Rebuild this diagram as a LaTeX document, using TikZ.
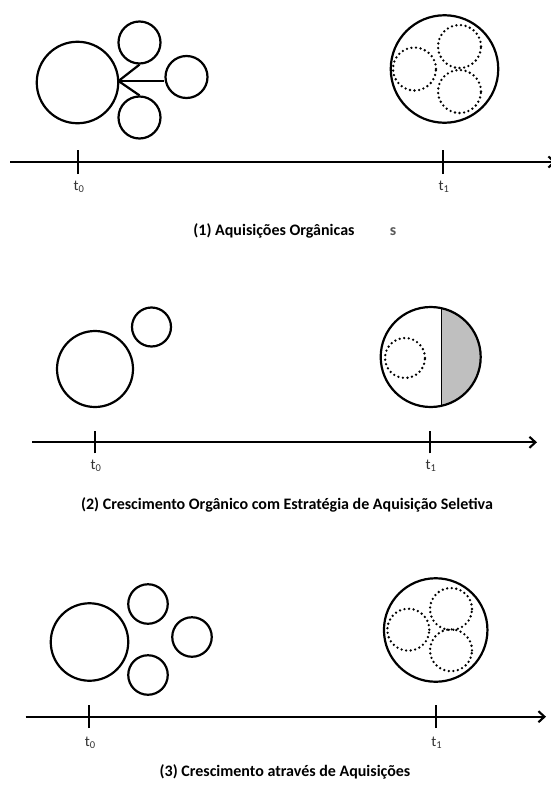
\documentclass[tikz,border=0pt]{standalone}
\usepackage{fontspec}
\setmainfont{Carlito}
\usetikzlibrary{arrows.meta}
\begin{document}
\begin{tikzpicture}[x=1pt,y=-1pt,
  ring/.style={circle,draw,line width=2.2pt,inner sep=0pt,minimum size=#1},
  dotring/.style={circle,draw,line width=2.6pt,dash pattern=on 0pt off 4.6pt,line cap=round,inner sep=0pt,minimum size=#1},
  axis/.style={line width=2.1pt},
  tick/.style={line width=2.1pt},
  tlabel/.style={font=\fontsize{15}{16}\selectfont, text=black!80},
  caption/.style={font=\bfseries\fontsize{16}{18}\selectfont},
  link/.style={line width=2.2pt}]
\useasboundingbox (0,0) rectangle (551,787);

% ---------- Panel 1 ----------
\node[ring=81.5pt] (b1) at (77.5,82.5) {};
\node[ring=42pt] (s1a) at (139.5,42.5) {};
\node[ring=42pt] (s1b) at (186.5,77) {};
\node[ring=42pt] (s1c) at (139.5,117.5) {};
\coordinate (j1) at (118.5,81);
\draw[link] (j1) -- (s1a.south);
\draw[link] (j1) -- (s1b.west |- j1);
\draw[link] (j1) -- (s1c.north);

\node[ring=107.5pt] (B1) at (444.5,69) {};
\node[dotring=43pt] (d1a) at (414.5,69) {};
\node[dotring=43pt] (d1b) at (459.5,46.5) {};
\node[dotring=43pt] (d1c) at (459.5,91.5) {};

\coordinate (a1s) at (10,162);
\coordinate (a1e) at (556,162);
\draw[axis,-{Straight Barb[length=6pt,width=11pt]}] (a1s) -- (a1e);
\coordinate (t10) at (78,162);
\coordinate (t11) at (442.7,162);
\draw[tick] ([yshift=-12pt]t10) -- ([yshift=12pt]t10);
\draw[tick] ([yshift=-12pt]t11) -- ([yshift=12pt]t11);
\node[tlabel] (l10) at (79,187) {t\textsubscript{0}};
\node[tlabel] (l11) at (444,187) {t\textsubscript{1}};
\node[caption] (c1) at (274,231) {(1) Aquisições Orgânicas};
\node[caption,text=black!65] (c1s) at (393,232) {s};

% ---------- Panel 2 ----------
\node[ring=76pt] (b2) at (95,369) {};
\node[ring=39pt] (s2) at (151.5,327) {};

\begin{scope}
  \clip (430.7,357) circle (50pt);
  \fill[gray!50] (441,300) rectangle (490,420);
\end{scope}
\draw[line width=1pt] (441,308.1) -- (441,405.9);
\node[ring=100pt] (B2) at (430.7,357) {};
\node[dotring=40pt] (d2) at (405,358) {};

\coordinate (a2s) at (32,442.3);
\coordinate (a2e) at (537,442.3);
\draw[axis,-{Straight Barb[length=6pt,width=11pt]}] (a2s) -- (a2e);
\coordinate (t20) at (95,442.3);
\coordinate (t21) at (430,442.3);
\draw[tick] ([yshift=-11pt]t20) -- ([yshift=11pt]t20);
\draw[tick] ([yshift=-11pt]t21) -- ([yshift=11pt]t21);
\node[tlabel] (l20) at (96,466) {t\textsubscript{0}};
\node[tlabel] (l21) at (431,466) {t\textsubscript{1}};
\node[caption] (c2) at (287,505) {(2) Crescimento Orgânico com Estratégia de Aquisição Seletiva};

% ---------- Panel 3 ----------
\node[ring=77.5pt] (b3) at (89.5,642) {};
\node[ring=39.5pt] (s3a) at (148,604) {};
\node[ring=39.5pt] (s3b) at (192,637) {};
\node[ring=39.5pt] (s3c) at (148,675) {};

\node[ring=103.5pt] (B3) at (435.7,630) {};
\node[dotring=42pt] (d3a) at (408.3,629.7) {};
\node[dotring=42pt] (d3b) at (451,609) {};
\node[dotring=42pt] (d3c) at (451,650.3) {};

\coordinate (a3s) at (25.7,716.7);
\coordinate (a3e) at (546,716.7);
\draw[axis,-{Straight Barb[length=6pt,width=11pt]}] (a3s) -- (a3e);
\coordinate (t30) at (89.3,716.7);
\coordinate (t31) at (435.7,716.7);
\draw[tick] ([yshift=-11.5pt]t30) -- ([yshift=11.5pt]t30);
\draw[tick] ([yshift=-11.5pt]t31) -- ([yshift=11.5pt]t31);
\node[tlabel] (l30) at (90.3,743) {t\textsubscript{0}};
\node[tlabel] (l31) at (436.7,743) {t\textsubscript{1}};
\node[caption] (c3) at (285,772) {(3) Crescimento através de Aquisições};
\end{tikzpicture}
\end{document}
